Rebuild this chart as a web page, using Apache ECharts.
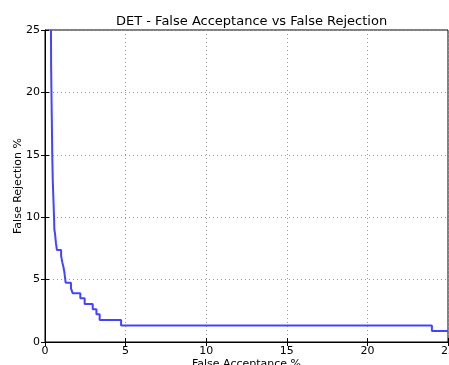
<!DOCTYPE html>
<html>
<head>
<meta charset="utf-8">
<script src="https://cdn.jsdelivr.net/npm/echarts@6/dist/echarts.min.js"></script>
<style>
html, body { margin: 0; padding: 0; background: #fff; }
#chart { width: 449px; height: 365px; }
</style>
</head>
<body>
<div id="chart"></div>
<script>
// false acceptance % (x), false rejection % (y), held until next point
var falseAcceptance = [0.37, 0.38, 0.40, 0.42, 0.45, 0.48, 0.52, 0.56, 0.58, 0.62, 0.68, 0.74, 1.00, 1.07, 1.14, 1.20, 1.24, 1.28, 1.61, 1.72, 2.19, 2.46, 2.96, 3.19, 3.39, 4.72, 24.0, 25];
var falseRejection = [25, 22, 20, 18, 15, 13, 11.5, 10, 9, 8.7, 7.9, 7.37, 6.9, 6.4, 6.03, 5.6, 5.2, 4.75, 4.3, 3.9, 3.5, 3.04, 2.62, 2.22, 1.76, 1.33, 0.88, 0.88];
var xTicks = [0, 5, 10, 15, 20, 25];
var yTicks = [0, 5, 10, 15, 20, 25];

var font = 'DejaVu Sans';
var points = falseAcceptance.map(function (x, i) {
    return [x, falseRejection[i]];
});

var chart = echarts.init(document.getElementById('chart'));

var gridLine = { show: true, lineStyle: { color: '#999', type: [1, 3], width: 1 } };
var tick = { show: true, inside: true, length: 4, lineStyle: { color: '#000' } };

chart.setOption({
    animation: false,
    backgroundColor: '#fff',
    title: {
        text: 'DET - False Acceptance vs False Rejection',
        left: 111,
        top: 10,
        textStyle: { fontFamily: font, fontSize: 13, fontWeight: 'normal', color: '#000' }
    },
    grid: {
        left: 45, right: 1, top: 30, bottom: 23,
        outerBoundsMode: 'none', containLabel: false,
        show: true, borderColor: '#000', borderWidth: 1, backgroundColor: '#fff'
    },
    xAxis: [{
        type: 'value', min: 0, max: 25, interval: 5,
        name: 'False Acceptance %', nameLocation: 'middle', nameGap: 17, nameMoveOverlap: false,
        nameTextStyle: { fontFamily: font, fontSize: 11, color: '#000' },
        axisLine: { show: true, onZero: false, lineStyle: { color: '#000' } },
        axisTick: tick,
        splitLine: gridLine,
        axisLabel: {
            fontFamily: font, fontSize: 11, color: '#000', margin: 4, showMaxLabel: true,
            formatter: function (v) { return xTicks.indexOf(v) >= 0 ? String(v) : ''; }
        }
    }, {
        type: 'value', min: 0, max: 25, interval: 5, position: 'top',
        axisLine: { show: false }, axisTick: tick, axisLabel: { show: false }, splitLine: { show: false }
    }],
    yAxis: [{
        type: 'value', min: 0, max: 25, interval: 5,
        name: 'False Rejection %', nameLocation: 'middle', nameGap: 21, nameMoveOverlap: false,
        nameTextStyle: { fontFamily: font, fontSize: 11, color: '#000' },
        axisLine: { show: true, onZero: false, lineStyle: { color: '#000' } },
        axisTick: tick,
        splitLine: gridLine,
        axisLabel: {
            fontFamily: font, fontSize: 11, color: '#000', margin: 5,
            formatter: function (v) { return yTicks.indexOf(v) >= 0 ? String(v) : ''; }
        }
    }, {
        type: 'value', min: 0, max: 25, interval: 5, position: 'right',
        axisLine: { show: false }, axisTick: tick, axisLabel: { show: false }, splitLine: { show: false }
    }],
    series: [{
        type: 'line',
        step: 'end',
        data: points,
        symbol: 'none',
        clip: true,
        lineStyle: { color: '#4444ff', width: 2 }
    }]
});
</script>
</body>
</html>
